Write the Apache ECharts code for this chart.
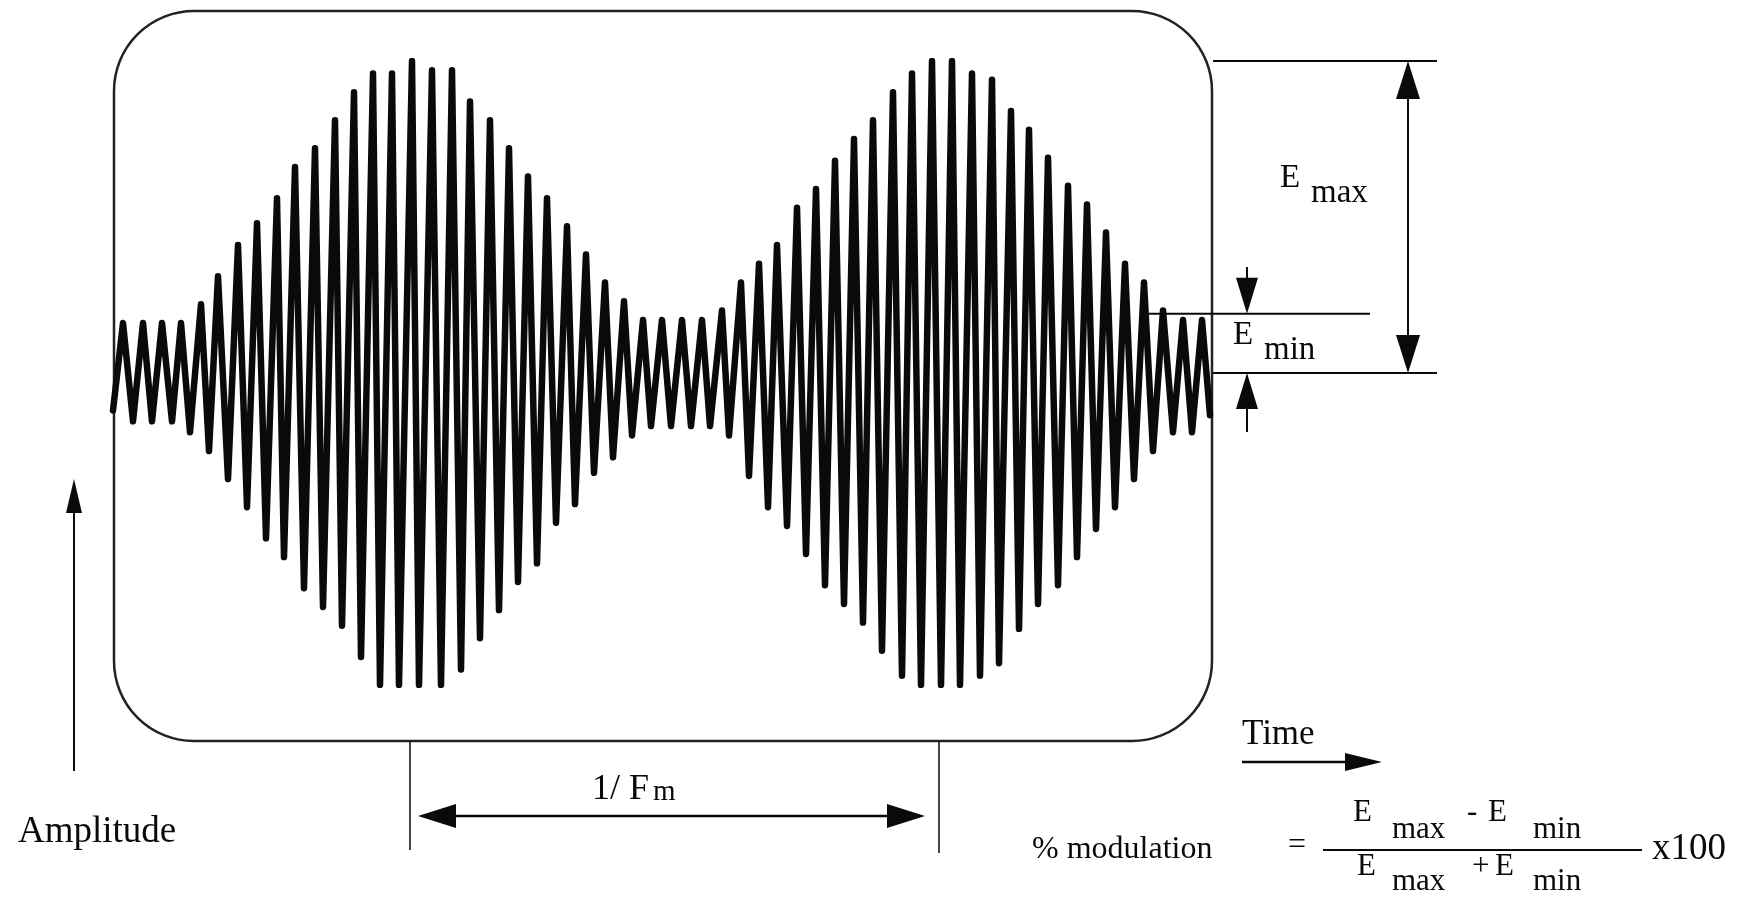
<!DOCTYPE html>
<html>
<head>
    <meta charset="utf-8">
    <script src="https://cdn.jsdelivr.net/npm/echarts@6/dist/echarts.min.js"></script>
    <style>
        html, body { margin: 0; padding: 0; background: #fff; }
        #chart { width: 1747px; height: 899px; }
    </style>
</head>
<body>
<div id="chart"></div>
<script>
    // carrier peaks and troughs (time in arbitrary units)
    const time = [0, 10, 20, 30, 39, 49, 59, 68, 77, 88,
        96, 105, 115, 125, 134, 144, 153, 164, 171, 182,
        191, 202, 210, 222, 229, 241, 248, 260, 267, 279,
        286, 299, 306, 319, 328, 339, 348, 357, 367, 377,
        386, 396, 405, 415, 424, 434, 443, 454, 462, 473,
        481, 492, 500, 511, 519, 530, 538, 549, 558, 569,
        578, 589, 597, 609, 616, 628, 636, 646, 655, 664,
        674, 684, 693, 703, 712, 722, 731, 741, 750, 760,
        769, 780, 789, 799, 808, 819, 828, 839, 847, 859,
        867, 879, 886, 898, 906, 916, 925, 935, 945, 955,
        964, 974, 983, 993, 1002, 1012, 1021, 1031, 1040, 1050,
        1060, 1070, 1079, 1089, 1097]
    const amplitude = [-12, 16, -15.5, 16, -15.5, 16, -15.5, 16, -19, 22,
        -25, 31, -34, 41, -43, 48, -53, 56, -59, 66,
        -69, 72, -75, 81, -81, 90, -91, 96, -100, 96,
        -100, 100, -100, 97, -100, 97, -95, 87, -85, 81,
        -76, 72, -67, 63, -61, 56, -48, 47, -42, 38,
        -32, 29, -27, 23, -20, 17, -17, 17, -17, 17,
        -17, 17, -17, 20, -20, 29, -33, 35, -43, 41,
        -49, 53, -58, 59, -68, 68, -74, 75, -80, 81,
        -89, 90, -97, 96, -100, 100, -100, 100, -100, 96,
        -97, 94, -93, 84, -82, 78, -74, 69, -68, 60,
        -59, 54, -50, 45, -43, 35, -34, 29, -25, 20,
        -19, 17, -19, 17, -13.5]
    const eMax = 100
    const eMin = 19
    const fmMarks = [297, 826]   // one modulation period

    const chart = echarts.init(document.getElementById('chart'))
    const ink = '#0a0a0a'
    const serif = '"Liberation Serif", "Times New Roman", serif'

    chart.setOption({
        animation: false,
        backgroundColor: '#fff',
        grid: { left: 113, top: 61, width: 1097, height: 624 },
        xAxis: { type: 'value', min: 0, max: 1097, show: false },
        yAxis: { type: 'value', min: -100, max: 100, show: false },
        series: [{
            type: 'line',
            data: time.map((t, i) => [t, amplitude[i]]),
            showSymbol: false,
            silent: true,
            lineStyle: { color: ink, width: 6.5, join: 'round', cap: 'round' }
        }]
    })

    function px(t, a) {
        return chart.convertToPixel({ gridIndex: 0 }, [t, a])
    }
    function line(x1, y1, x2, y2, w) {
        return { type: 'line', shape: { x1, y1, x2, y2 }, style: { stroke: ink, lineWidth: w || 2 } }
    }
    function head(tx, ty, dx, dy, len, wid) {
        const bx = tx - dx * len, by = ty - dy * len
        const nx = -dy * wid / 2, ny = dx * wid / 2
        return { type: 'polygon', shape: { points: [[tx, ty], [bx + nx, by + ny], [bx - nx, by - ny]] }, style: { fill: ink } }
    }
    function txt(text, x, baseline, size, align) {
        return {
            type: 'text', x: x, y: baseline - 0.34 * size,
            style: { text, font: size + 'px ' + serif, fill: ink, align: align || 'left', verticalAlign: 'middle' }
        }
    }

    const yTop = px(0, eMax)[1]
    const yBase = px(0, 0)[1]
    const yMin = px(0, eMin)[1]
    const xL = px(fmMarks[0], 0)[0]
    const xR = px(fmMarks[1], 0)[0]

    const g = [
        { type: 'rect', shape: { x: 114, y: 11, width: 1098, height: 730, r: 80 }, style: { fill: 'none', stroke: '#222', lineWidth: 2.5 } },
        // E max / E min construction
        line(1213, yTop, 1437, yTop),
        line(1213, yBase, 1437, yBase),
        line(1147, yMin, 1370, yMin),
        line(1408, yTop + 20, 1408, yBase - 20),
        head(1408, yTop, 0, -1, 38, 24),
        head(1408, yBase, 0, 1, 38, 24),
        line(1247, 267, 1247, yMin - 20),
        head(1247, yMin, 0, 1, 36, 22),
        line(1247, 432, 1247, yBase + 20),
        head(1247, yBase, 0, -1, 36, 22),
        txt('E', 1280, 190, 33), txt('max', 1311, 205, 33),
        txt('E', 1233, 347, 33), txt('min', 1264, 362, 33),
        // amplitude arrow
        line(74, 771, 74, 495),
        head(74, 479, 0, -1, 34, 16),
        txt('Amplitude', 18, 845, 37),
        // 1/Fm
        line(xL, 741, xL, 850, 1.5),
        line(xR, 741, xR, 853, 1.5),
        line(xL + 20, 816, xR - 30, 816, 2.5),
        head(xL + 8, 816, -1, 0, 38, 24),
        head(xR - 14, 816, 1, 0, 38, 24),
        txt('1/ F', 592, 802, 36), txt('m', 653, 802, 29),
        // time arrow
        txt('Time', 1242, 747, 35),
        line(1242, 762, 1360, 762, 2.5),
        head(1382, 762, 1, 0, 37, 18),
        // formula
        txt('% modulation', 1032, 860, 32),
        txt('=', 1297, 856, 32, 'center'),
        line(1323, 850, 1642, 850, 2),
        txt('E', 1353, 823, 31), txt('max', 1392, 840, 31),
        txt('-', 1467, 823, 31), txt('E', 1488, 823, 31), txt('min', 1533, 840, 31),
        txt('E', 1357, 877, 31), txt('max', 1392, 892, 31),
        txt('+', 1472, 877, 31), txt('E', 1495, 877, 31), txt('min', 1533, 892, 31),
        txt('x100', 1652, 862, 37)
    ]
    chart.setOption({ graphic: { elements: g } })
</script>
</body>
</html>
